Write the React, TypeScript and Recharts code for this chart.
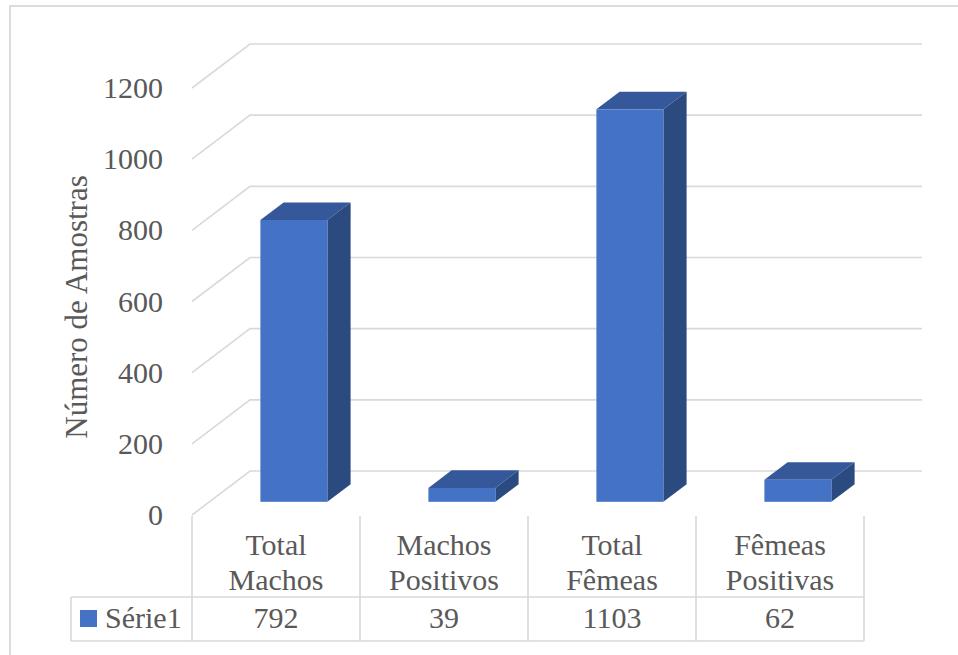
import { BarChart, Bar, XAxis, YAxis, CartesianGrid } from 'recharts';

// Sample counts per group, shown as 3D columns with a data table underneath.
const categories = ['Total Machos', 'Machos Positivos', 'Total Fêmeas', 'Fêmeas Positivas'];
const values = [792, 39, 1103, 62];
const seriesName = 'Série1';
const yTicks = [0, 200, 400, 600, 800, 1000, 1200];

const data = categories.map((c, i) => ({ category: c, value: values[i] }));

const W = 958;
const H = 655;
const PLOT_LEFT = 192;
const PLOT_RIGHT = 864;
const PLOT_TOP = 88;
const PLOT_BOTTOM = 515;

// floor depth of the 3D box (back wall sits up and to the right)
const DX = 58;
const DY = 44;
// columns stand at 30%..70% of the floor depth
const BAR_FRONT = 0.3;
const BAR_DEPTH = 0.4;

const FONT = 'Liberation Serif';
const TEXT = '#595959';
const GRID = '#d9d9d9';
const FRONT = '#4472C4';
const TOP = '#34589A';
const SIDE = '#2A4A80';

const TABLE_TOP = 516;
const TABLE_ROW = 597;
const TABLE_BOTTOM = 641;
const LEGEND_LEFT = 71;

function Column3D(props: any) {
  const { x, y, width, height } = props;
  if (width == null || height == null) return null;
  const fx = x + BAR_FRONT * DX;
  const fy = y - BAR_FRONT * DY;
  const bx = BAR_DEPTH * DX;
  const by = BAR_DEPTH * DY;
  const top = `${fx},${fy} ${fx + bx},${fy - by} ${fx + width + bx},${fy - by} ${fx + width},${fy}`;
  const side = `${fx + width},${fy} ${fx + width + bx},${fy - by} ${fx + width + bx},${fy + height - by} ${fx + width},${fy + height}`;
  return (
    <g>
      <polygon points={top} fill={TOP} />
      <polygon points={side} fill={SIDE} />
      <rect x={fx} y={fy} width={width} height={height} fill={FRONT} />
    </g>
  );
}

function GridLine(props: any) {
  const { x1, y1, x2, index } = props;
  const d = `M${x1},${y1} L${x1 + DX},${y1 - DY} L${x2 + DX},${y1 - DY}`;
  return <path key={`grid-${index}`} d={d} stroke={GRID} strokeWidth={1.6} fill="none" />;
}

function YTick(props: any) {
  const { y, payload } = props;
  return (
    <text x={PLOT_LEFT - 29} y={y + 10} textAnchor="end" fontSize={30} fill={TEXT} style={{ fontFamily: FONT }}>
      {payload.value}
    </text>
  );
}

// category label plus its cell of the data table; the first cell also carries the series key
function TableTick(props: any) {
  const { x, payload, index } = props;
  const band = (PLOT_RIGHT - PLOT_LEFT) / categories.length;
  const left = x - band / 2;
  const right = x + band / 2;
  const words = String(payload.value).split(' ');
  const first = index === 0;
  const last = index === categories.length - 1;
  const rowLeft = first ? LEGEND_LEFT : left;
  return (
    <g>
      <line x1={left} y1={TABLE_TOP} x2={left} y2={TABLE_BOTTOM} stroke={GRID} strokeWidth={1.6} />
      {last && <line x1={right} y1={TABLE_TOP} x2={right} y2={TABLE_BOTTOM} stroke={GRID} strokeWidth={1.6} />}
      {first && <line x1={LEGEND_LEFT} y1={TABLE_ROW} x2={LEGEND_LEFT} y2={TABLE_BOTTOM} stroke={GRID} strokeWidth={1.6} />}
      <line x1={rowLeft} y1={TABLE_ROW} x2={right} y2={TABLE_ROW} stroke={GRID} strokeWidth={1.6} />
      <line x1={rowLeft} y1={TABLE_BOTTOM} x2={right} y2={TABLE_BOTTOM} stroke={GRID} strokeWidth={1.6} />
      {first && (
        <g>
          <rect x={LEGEND_LEFT + 9} y={610} width={17} height={17} fill={FRONT} />
          <text x={LEGEND_LEFT + 34} y={628} fontSize={30} fill={TEXT} style={{ fontFamily: FONT }}>
            {seriesName}
          </text>
        </g>
      )}
      {words.map((w, i) => (
        <text key={i} x={x} y={555 + i * 35} textAnchor="middle" fontSize={30} fill={TEXT} style={{ fontFamily: FONT }}>
          {w}
        </text>
      ))}
      <text x={x} y={628} textAnchor="middle" fontSize={30} fill={TEXT} style={{ fontFamily: FONT }}>
        {values[index]}
      </text>
    </g>
  );
}

export default function App() {
  return (
    <div style={{ position: 'relative', width: W, height: H, overflow: 'hidden', background: '#fff' }}>
      <style>{'body{margin:0}'}</style>
      <div
        style={{
          position: 'absolute',
          left: 9,
          top: 5,
          width: W + 20,
          height: H + 20,
          border: '2px solid #dcdcdc',
        }}
      />
      <div style={{ position: 'absolute', left: 0, top: 0 }}>
        <BarChart
          width={W}
          height={H}
          data={data}
          margin={{ top: PLOT_TOP, right: W - PLOT_RIGHT, bottom: 0, left: 0 }}
        >
          <CartesianGrid vertical={false} horizontal={GridLine as any} />
          <XAxis
            dataKey="category"
            axisLine={false}
            tickLine={false}
            tick={TableTick}
            interval={0}
            height={H - PLOT_BOTTOM}
          />
          <YAxis
            width={PLOT_LEFT}
            domain={[0, 1200]}
            ticks={yTicks}
            axisLine={false}
            tickLine={false}
            tick={YTick}
            label={() => (
              <text
                transform="translate(87,307) rotate(-90)"
                textAnchor="middle"
                fontSize={31}
                fill={TEXT}
                style={{ fontFamily: FONT }}
              >
                Número de Amostras
              </text>
            )}
          />
          <Bar dataKey="value" name={seriesName} barSize={67} shape={Column3D} isAnimationActive={false} />
        </BarChart>
      </div>
    </div>
  );
}
